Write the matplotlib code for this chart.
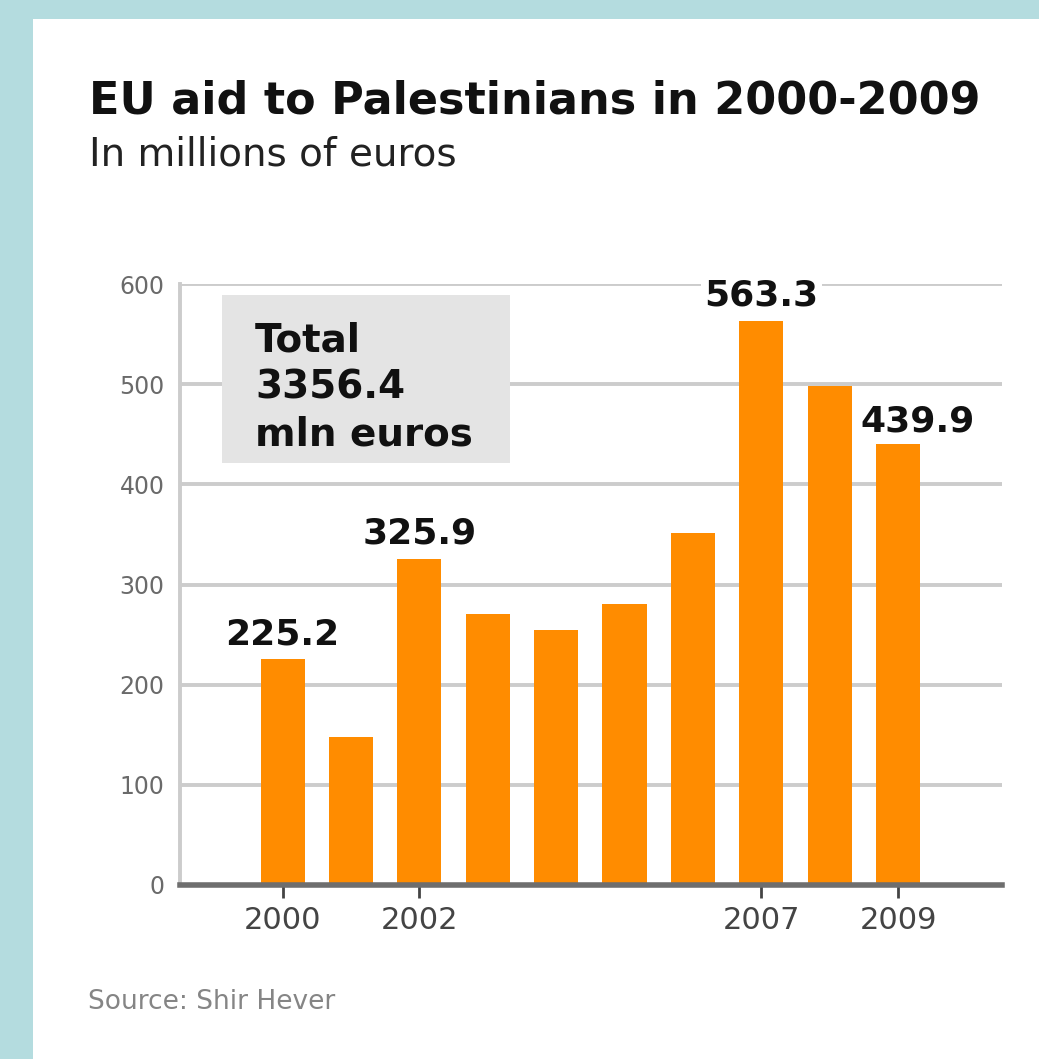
import matplotlib
matplotlib.use("Agg")
import matplotlib.pyplot as plt
from matplotlib.patches import Rectangle

# EU aid per year, millions of euros
years = [2000, 2001, 2002, 2003, 2004, 2005, 2006, 2007, 2008, 2009]
aid = [225.2, 148, 325.9, 271, 255, 281, 351, 563.3, 498, 439.9]

labelled_years = [2000, 2002, 2007, 2009]
year_ticks = [2000, 2002, 2007, 2009]
y_ticks = [0, 100, 200, 300, 400, 500, 600]
total_lines = ["Total", "3356.4", "mln euros"]

title = "EU aid to Palestinians in 2000-2009"
subtitle = "In millions of euros"
source = "Source: Shir Hever"

W, H = 1039, 1059
fig = plt.figure(figsize=(W / 100, H / 100), dpi=100, facecolor="white")

# light blue frame on top and left
frame_col = "#b4dcdf"
fig.patches.append(Rectangle((0, 1 - 19 / H), 1, 19 / H, transform=fig.transFigure,
                             facecolor=frame_col, edgecolor="none", zorder=0))
fig.patches.append(Rectangle((0, 0), 33 / W, 1, transform=fig.transFigure,
                             facecolor=frame_col, edgecolor="none", zorder=0))

fig.text(89 / W, 1 - 113 / H, title, fontsize=32, fontweight="bold",
         color="#111111", ha="left", va="baseline")
fig.text(89 / W, 1 - 166 / H, subtitle, fontsize=28, color="#222222",
         ha="left", va="baseline")
fig.text(88 / W, 1 - 1009 / H, source, fontsize=19, color="#858585",
         ha="left", va="baseline")

ax = fig.add_axes([180 / W, 1 - 885 / H, 822 / W, 601 / H])
ax.set_facecolor("white")

ax.bar(years, aid, width=0.645, color="#ff8c00", zorder=3)

ax.set_xlim(1998.5, 2010.52)
ax.set_ylim(0, 600)

ax.set_yticks(y_ticks)
ax.set_yticklabels([str(v) for v in y_ticks], fontsize=17, color="#6a6a6a")
ax.tick_params(axis="y", length=0, pad=11)
ax.set_xticks(year_ticks)
ax.set_xticklabels([str(y) for y in year_ticks], fontsize=22, color="#444444")
ax.tick_params(axis="x", length=9, width=2, color="#444444", pad=6)

ax.grid(axis="y", color="#cccccc", linewidth=2.8, zorder=0)
ax.set_axisbelow(True)

for s in ["top", "right"]:
    ax.spines[s].set_visible(False)
ax.spines["left"].set_color("#cccccc")
ax.spines["left"].set_linewidth(2.8)
ax.spines["bottom"].set_color("#6e6e6e")
ax.spines["bottom"].set_linewidth(4)
ax.spines["bottom"].set_zorder(4)

# value labels above selected bars
for yr in labelled_years:
    v = aid[years.index(yr)]
    dx, dy = (14, 9) if yr == 2009 else (0, 11)
    ax.annotate(f"{v:.1f}", xy=(yr, v), xytext=(dx, dy), textcoords="offset points",
                ha="center", va="baseline", fontsize=26, fontweight="bold",
                color="#111111", zorder=5, annotation_clip=False,
                bbox=dict(boxstyle="square,pad=0.1", facecolor="white", edgecolor="none"))

# grey total box
ax.add_patch(Rectangle((0.051, 0.702), 0.350, 0.280, transform=ax.transAxes,
                       facecolor="#e4e4e4", edgecolor="none", zorder=2))
line_y = [0.887, 0.810, 0.732]
for txt, ly in zip(total_lines, line_y):
    ax.text(0.0912, ly, txt, transform=ax.transAxes, fontsize=28, fontweight="bold",
            color="#111111", ha="left", va="baseline", zorder=4)

fig.savefig("out.png", dpi=100, facecolor=fig.get_facecolor())
